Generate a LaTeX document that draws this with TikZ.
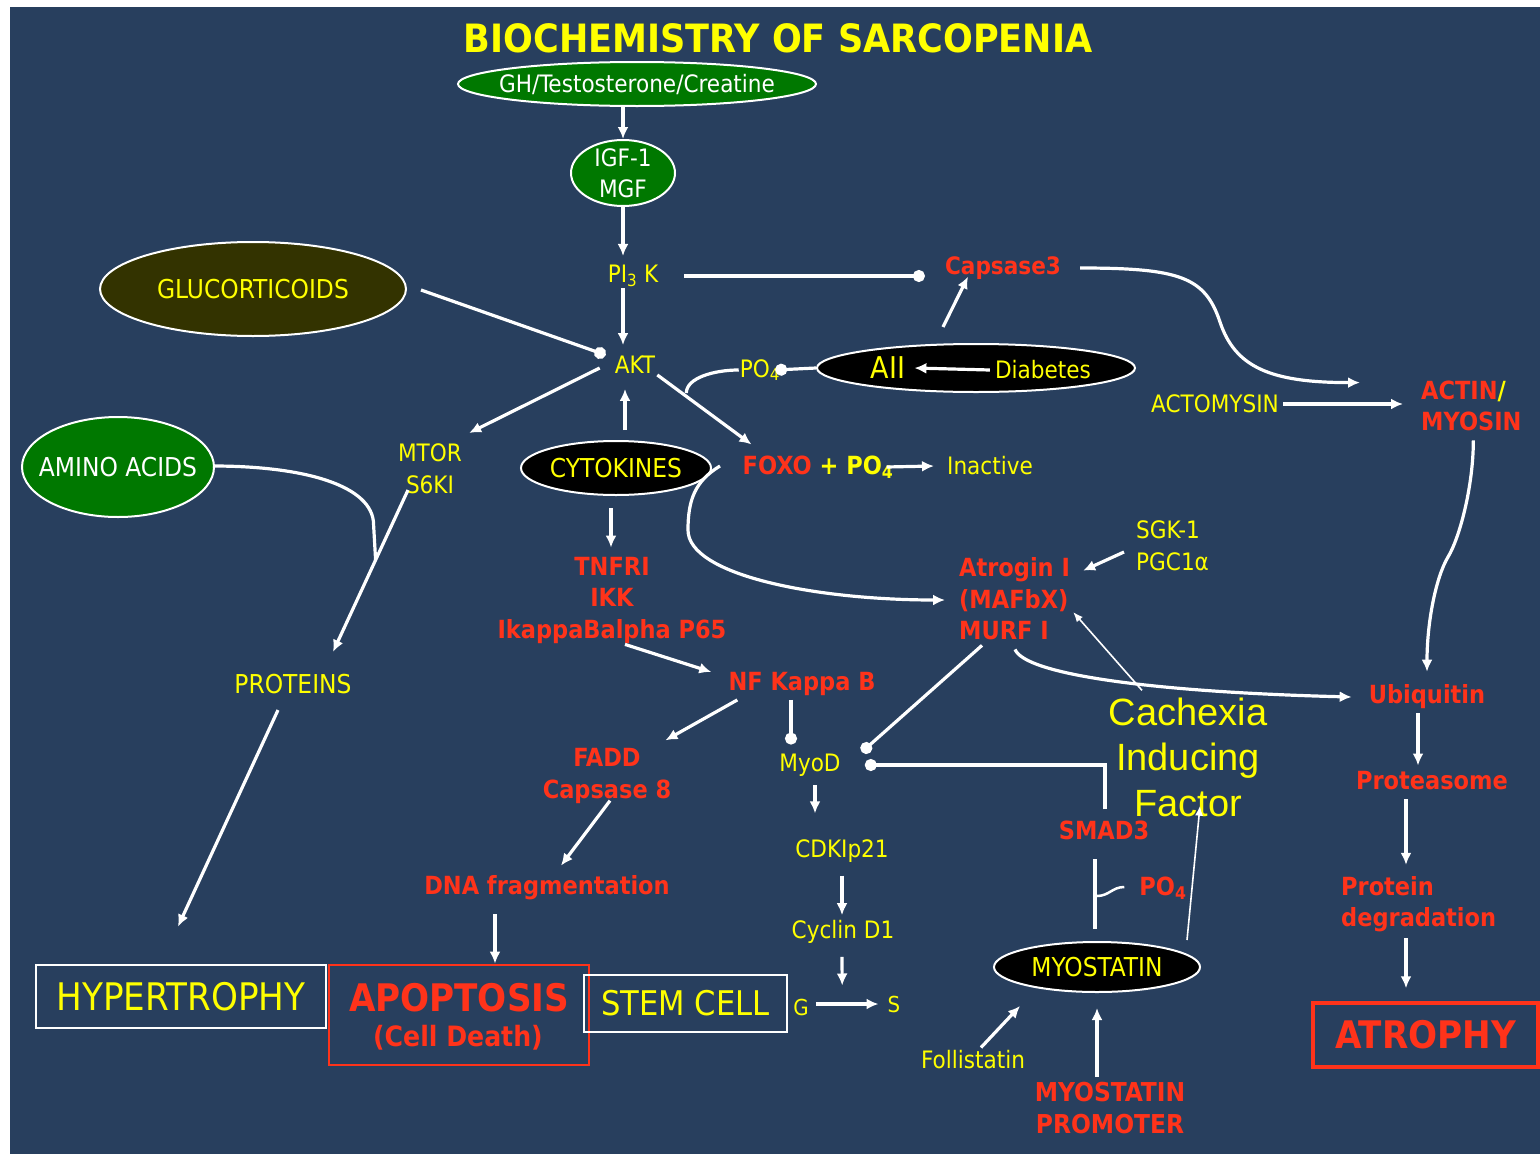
\documentclass[tikz,border=0pt]{standalone}
\usepackage{fontspec}
\setmainfont{DejaVu Sans Condensed}[BoldFont={DejaVu Sans Condensed Bold}]
\newfontfamily\arialfont{Liberation Sans}
\usetikzlibrary{arrows.meta,shapes.geometric,calc}
\definecolor{bg}{RGB}{40,63,94}
\definecolor{ylw}{RGB}{255,255,0}
\definecolor{rd}{RGB}{255,51,26}
\definecolor{leaf}{RGB}{0,120,0}
\definecolor{olive}{RGB}{51,51,0}
\tikzset{
  yt/.style={text=ylw, align=center, inner sep=1pt, font=\fontsize{#1}{31.5}\selectfont},
  yt/.default=24,
  rt/.style={text=rd, align=center, inner sep=1pt, font=\fontsize{#1}{31.5}\selectfont\bfseries},
  rt/.default=25,
  wt/.style={text=white, align=center, inner sep=1pt, font=\fontsize{#1}{31}\selectfont},
  wt/.default=24,
  blob/.style={ellipse, draw=white, line width=2pt, inner sep=0pt},
  framebox/.style={draw=#1, line width=2.8pt, inner sep=0pt},
  wire/.style={draw=white, line width=3.2pt},
  arr/.style={wire, -{Latex[length=12pt,width=11pt]}},
  thinarr/.style={draw=white, line width=1.6pt, -{Latex[length=10pt,width=8pt]}},
  dotl/.style={wire, -{Circle[length=12pt]}},
}
\begin{document}
\begin{tikzpicture}[x=1pt,y=-1pt]
\useasboundingbox (0,0) rectangle (1540,1154);
\fill[white] (0,0) rectangle (1540,1154);
\fill[bg] (10,7) rectangle (1540,1154);

% ---- title and growth-factor axis
\node[text=ylw, inner sep=0pt, font=\fontsize{39}{44}\selectfont\bfseries] (title) at (778,38) {BIOCHEMISTRY OF SARCOPENIA};
\node[blob, fill=leaf, minimum width=358pt, minimum height=44pt] (gh) at (637,84) {};
\node[wt] (ghtx) at (gh) {GH/Testosterone/Creatine};
\node[blob, fill=leaf, minimum width=104pt, minimum height=66pt] (igf) at (623,173) {};
\node[wt] (igftx) at (igf) {IGF-1\\MGF};
\node[yt] (pik) at (633,276) {PI\textsubscript{3} K};
\node[yt] (akt) at (635,365) {AKT};
\node[rt=24] (caps) at (1003,268) {Capsase3};

% ---- left branch
\node[blob, fill=olive, minimum width=306pt, minimum height=94pt] (gluc) at (253,289) {};
\node[yt=26] (gluctx) at (gluc) {GLUCORTICOIDS};
\node[blob, fill=leaf, minimum width=192pt, minimum height=100pt] (amino) at (118,467) {};
\node[wt=26] (aminotx) at (amino) {AMINO ACIDS};
\node[yt] (mtor) at (430,469) {MTOR\\S6KI};
\node[yt=26] (proteins) at (293,684) {PROTEINS};

% ---- cytokine / NF-kB branch
\node[blob, fill=black, minimum width=190pt, minimum height=54pt] (cyto) at (616,468) {};
\node[yt=26] (cytotx) at (cyto) {CYTOKINES};
\node[rt] (tnf) at (612,600) {TNFRI\\IKK\\IkappaBalpha P65};
\node[rt] (nfkb) at (802,684) {NF Kappa B};
\node[rt] (fadd) at (607,776) {FADD\\Capsase 8};
\node[rt] (dna) at (547,888) {DNA fragmentation};
\node[yt] (myod) at (810,765) {MyoD};
\node[yt] (cdk) at (842,851) {CDKIp21};
\node[yt] (cyc) at (843,932) {Cyclin D1};
\node[yt=22] (g) at (801,1007) {G};
\node[yt=22] (s) at (894,1004) {S};

% ---- FOXO / angiotensin
\node[rt] (foxo) at (818,467) {FOXO \textcolor{ylw}{+ PO\textsubscript{4}}};
\node[yt] (inact) at (990,466) {Inactive};
\node[yt] (po4a) at (760,370) {PO\textsubscript{4}};
\node[blob, fill=black, minimum width=318pt, minimum height=48pt] (aii) at (976,368) {};
\node[yt=30] (aiit) at (888,368) {AII};
\node[yt] (diab) at (1043,370) {Diabetes};

% ---- ubiquitin ligases
\node[rt, align=left, anchor=west] (atro) at (958,599) {Atrogin I\\(MAFbX)\\MURF I};
\node[yt, align=left, anchor=west] (sgk) at (1135,546) {SGK-1\\PGC1α};
\node[text=ylw, align=center, inner sep=1pt, font=\arialfont\fontsize{38}{45.5}\selectfont] (cach) at (1188,757) {Cachexia\\Inducing\\Factor};
\node[rt] (smad) at (1104,830) {SMAD3};
\node[rt] (po4b) at (1163,888) {PO\textsubscript{4}};
\node[blob, fill=black, minimum width=206pt, minimum height=50pt] (myost) at (1097,967) {};
\node[yt=26] (myosttx) at (myost) {MYOSTATIN};
\node[yt] (foll) at (973,1060) {Follistatin};
\node[rt=26] (promo) at (1110,1108) {MYOSTATIN\\PROMOTER};

% ---- right column
\node[yt] (actom) at (1215,404) {ACTOMYSIN};
\node[rt, align=left, anchor=west] (actin) at (1420,406) {ACTIN\textcolor{ylw}{/}\\MYOSIN};
\node[rt] (ubiq) at (1427,697) {Ubiquitin};
\node[rt] (prot) at (1432,781) {Proteasome};
\node[rt, align=left, anchor=west] (pdeg) at (1340,904) {Protein\\degradation};

% ---- outcome boxes
\node[framebox=white, minimum width=290pt, minimum height=63pt, text=ylw, font=\fontsize{38}{40}\selectfont] (hyper) at (181,996.5) {HYPERTROPHY};
\node[framebox=rd, minimum width=260pt, minimum height=100pt] (apop) at (459,1015) {};
\node[rt=38] (apoptx) at (459,998) {APOPTOSIS};
\node[rt=28] (celld) at (458,1038) {(Cell Death)};
\node[framebox=white, minimum width=203pt, minimum height=57pt, text=ylw, font=\fontsize{34}{36}\selectfont] (stem) at (685.5,1003.5) {STEM CELL};
\node[framebox=rd, line width=3.5pt, minimum width=225pt, minimum height=64pt, text=rd, font=\fontsize{38}{40}\selectfont\bfseries] (atrophy) at (1425.5,1035) {ATROPHY};

% ================= connectors
\draw[arr] (igf.north |- gh.south) -- (igf.north);
\draw[arr] (igf.south) -- ($(igf.south |- pik.north)+(0,-8)$);
\draw[dotl] ($(pik.east)+(25,0)$) -- ($(caps.west |- pik.east)+(-19,0)$);
\draw[arr] ($(aii.north)+(-33,-16)$) -- ($(caps.south)+(-35,-4)$);
\coordinate (capsbend) at (1220,322);
\draw[arr] ($(caps.east)+(18,0)$) .. controls +(100,0) and +(-15,-45) .. (capsbend)
  .. controls +(15,45) and +(-90,0) .. ($(actin.north west)+(-60,3)$);
\draw[arr] (igf.south |- pik.south) -- ($(igf.south |- akt.north)+(0,-10)$);
\draw[dotl] ($(gluc.east)+(14,1)$) -- ($(akt.west)+(-8,-10)$);
\draw[arr] ($(akt.west)+(-14,3)$) -- ($(mtor.north east)+(6,-10)$);
\draw[arr] ($(cyto.north)+(9,-10)$) -- ($(akt.south)+(-10,14)$);
\draw[arr] ($(akt.south east)+(1,0)$) -- ($(foxo.north west)+(10,-10)$);
\draw[wire] ($(akt.east)+(30,28)$) .. controls +(0,-15) and +(-25,0) .. (po4a.west);
\draw[dotl] (aii.west) -- ($(po4a.east)+(-6,0)$);
\draw[arr] ($(diab.west)+(-4,0)$) -- ($(aiit.east)+(8,0)$);
\draw[arr] ($(actom.east)+(3,0)$) -- ($(actin.west |- actom.east)+(-17,0)$);
\draw[arr] ($(foxo.east)+(-8,0)$) -- ($(inact.west)+(-12,0)$);
\coordinate (cytobend) at (688,530);
\draw[arr] ($(cyto.east)+(8,-2)$) .. controls +(-25,15) and +(0,-30) .. (cytobend)
  .. controls +(0,45) and +(-130,0) .. ($(atro.west)+(-13,1)$);
\coordinate (join) at (375.6,560);
\draw[wire] ($(amino.east)+(-2,-1)$) .. controls +(90,0) and +(0,-40) .. ($(join)+(-2,-35)$) -- (join);
\draw[arr] ($(mtor.south)+(-22,-5)$) -- ($(proteins.north)+(40,-21)$);
\draw[arr] ($(proteins.south)+(-15,15)$) -- ($(hyper.north)+(-3,-37)$);
\draw[arr] ($(cyto.south)+(-5,12)$) -- ($(cyto.south |- tnf.north)+(-5,-8)$);
\draw[arr] ($(tnf.south)+(13,0)$) -- ($(nfkb.west)+(-16,-12)$);
\draw[arr] ($(nfkb.south west)+(10,3)$) -- ($(fadd.north east)+(-7,-7)$);
\draw[arr] ($(fadd.south)+(3,-4)$) -- ($(dna.north)+(14,-9)$);
\draw[arr] ($(dna.south)+(-52,13)$) -- ($(apop.north)+(36,0)$);
\draw[dotl] ($(nfkb.south)+(-11,3)$) -- ($(myod.north)+(-19,-8)$);
\draw[arr] ($(myod.south)+(5,8)$) -- ($(cdk.north)+(-27,-25)$);
\draw[arr] ($(cdk.south)+(0,12)$) -- ($(cyc.north)+(-1,-4)$);
\draw[arr] ($(cyc.south)+(-1,12)$) -- ($($(g.east)!0.5!(s.west)$)+(-6,-20)$);
\draw[arr] ($(g.east)+(6,-3)$) -- ($(s.west)+(-8,0)$);
\draw[dotl] ($(atro.south west)+(24,4)$) -- ($(myod.east)+(20,-13)$);
\draw[dotl] ($(smad.north)+(1,-10)$) |- ($(myod.east)+(23,0)$);
\draw[arr] ($(atro.south west)+(57,8)$) .. controls +(10,25) and +(-200,-5) .. ($(ubiq.west)+(-16,0)$);
\draw[arr] ($(sgk.west)+(-11,6)$) -- ($(atro.north east)+(12,14)$);
\draw[thinarr] ($(cach.north)+(-46,-6)$) -- ($(atro.east)+(2,13)$);
\draw[thinarr] ($(myost)+(90,-27)$) -- ($(cach.south)+(12,-12)$);
\draw[wire, line width=3.5pt] ($(myost.north)+(-2,-12)$) -- ($(smad.south)+(-9,18)$);
\draw[wire, line width=2.5pt] ($(myost.north)+(0,-45)$) .. controls +(12,0) and +(-12,0) .. ($(po4b.west)+(-14,-1)$);
\draw[arr] ($(foll.north)+(8,-2)$) -- ($(myost)+(-77,39)$);
\draw[arr] ($(promo.north)+(-13,-4)$) -- ($(myost.south)+(0,15)$);
\coordinate (actbend) at (1448,557);
\draw[arr] ($(actin.south)+(2,8)$) .. controls +(0,45) and +(12,-20) .. (actbend)
  .. controls +(-12,20) and +(0,-50) .. ($(ubiq.north)+(0,-12)$);
\draw[arr] ($(ubiq.south)+(-9,3)$) -- ($(prot.north)+(-14,-5)$);
\draw[arr] ($(prot.south)+(-26,8)$) -- ($(prot.south |- pdeg.north)+(-26,-10)$);
\draw[arr] ($(prot.south |- pdeg.south)+(-26,5)$) -- ($(prot.south |- atrophy.north)+(-26,-13)$);
\end{tikzpicture}
\end{document}
